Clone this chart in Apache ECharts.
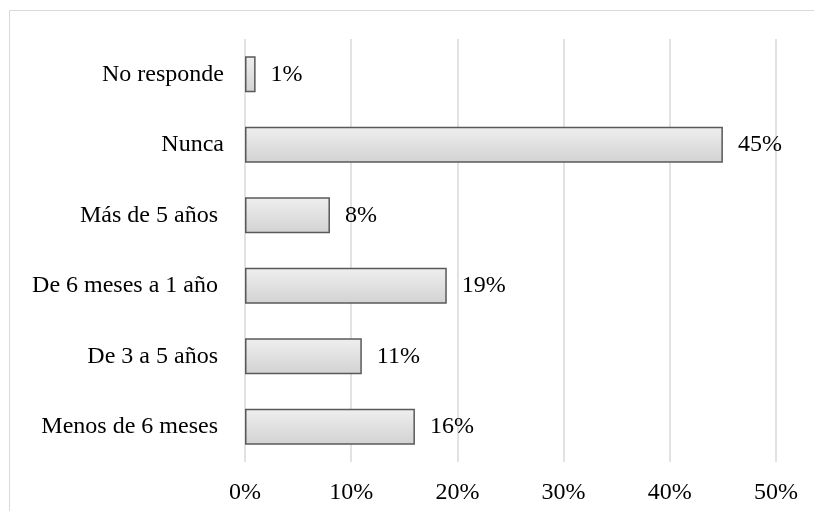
<!DOCTYPE html>
<html>
<head>
<meta charset="utf-8">
<script src="https://cdn.jsdelivr.net/npm/echarts@6/dist/echarts.min.js"></script>
<style>
  html, body { margin: 0; padding: 0; background: #ffffff; }
  #chart { width: 814px; height: 511px; }
</style>
</head>
<body>
<div id="chart"></div>
<script>
// Categories listed bottom to top (category axis starts at the bottom)
const categories = [
  'Menos de 6 meses ',
  'De 3 a 5 años ',
  'De 6 meses a 1 año ',
  'Más de 5 años ',
  'Nunca',
  'No responde'
];
// Share of respondents, in percent
const values = [16, 11, 19, 8, 45, 1];
// Horizontal axis ticks
const axisMin = 0;
const axisMax = 50;
const axisStep = 10;

const FONT = '"Liberation Serif", "Times New Roman", serif';

const chart = echarts.init(document.getElementById('chart'), null, { renderer: 'canvas' });

chart.setOption({
  animation: false,
  backgroundColor: '#ffffff',
  grid: { left: 245, right: 38, top: 39, bottom: 49, containLabel: false },
  graphic: [{
    type: 'rect',
    shape: { x: 9.5, y: 10.5, width: 900, height: 600 },
    style: { fill: 'none', stroke: '#d9d9d9', lineWidth: 1 },
    silent: true
  }],
  xAxis: {
    type: 'value',
    min: axisMin,
    max: axisMax,
    interval: axisStep,
    axisLine: { show: false },
    axisTick: { show: false },
    splitLine: { show: true, lineStyle: { color: '#d9d9d9', width: 1.5 } },
    axisLabel: {
      formatter: v => v + '%',
      color: '#000000',
      fontFamily: FONT,
      fontSize: 24,
      margin: 19
    }
  },
  yAxis: {
    type: 'category',
    data: categories,
    axisLine: { show: false },
    axisTick: { show: false },
    splitLine: { show: false },
    axisLabel: {
      color: '#000000',
      fontFamily: FONT,
      fontSize: 24,
      margin: 21
    }
  },
  series: [{
    type: 'bar',
    data: values,
    barCategoryGap: '49%',
    itemStyle: {
      color: {
        type: 'linear', x: 0, y: 0, x2: 0, y2: 1,
        colorStops: [
          { offset: 0, color: '#efefef' },
          { offset: 1, color: '#d2d2d2' }
        ]
      },
      borderColor: '#595959',
      borderWidth: 1.5
    },
    label: {
      show: true,
      position: 'right',
      distance: 15,
      formatter: p => p.value + '%',
      color: '#000000',
      fontFamily: FONT,
      fontSize: 24
    }
  }]
});
</script>
</body>
</html>
